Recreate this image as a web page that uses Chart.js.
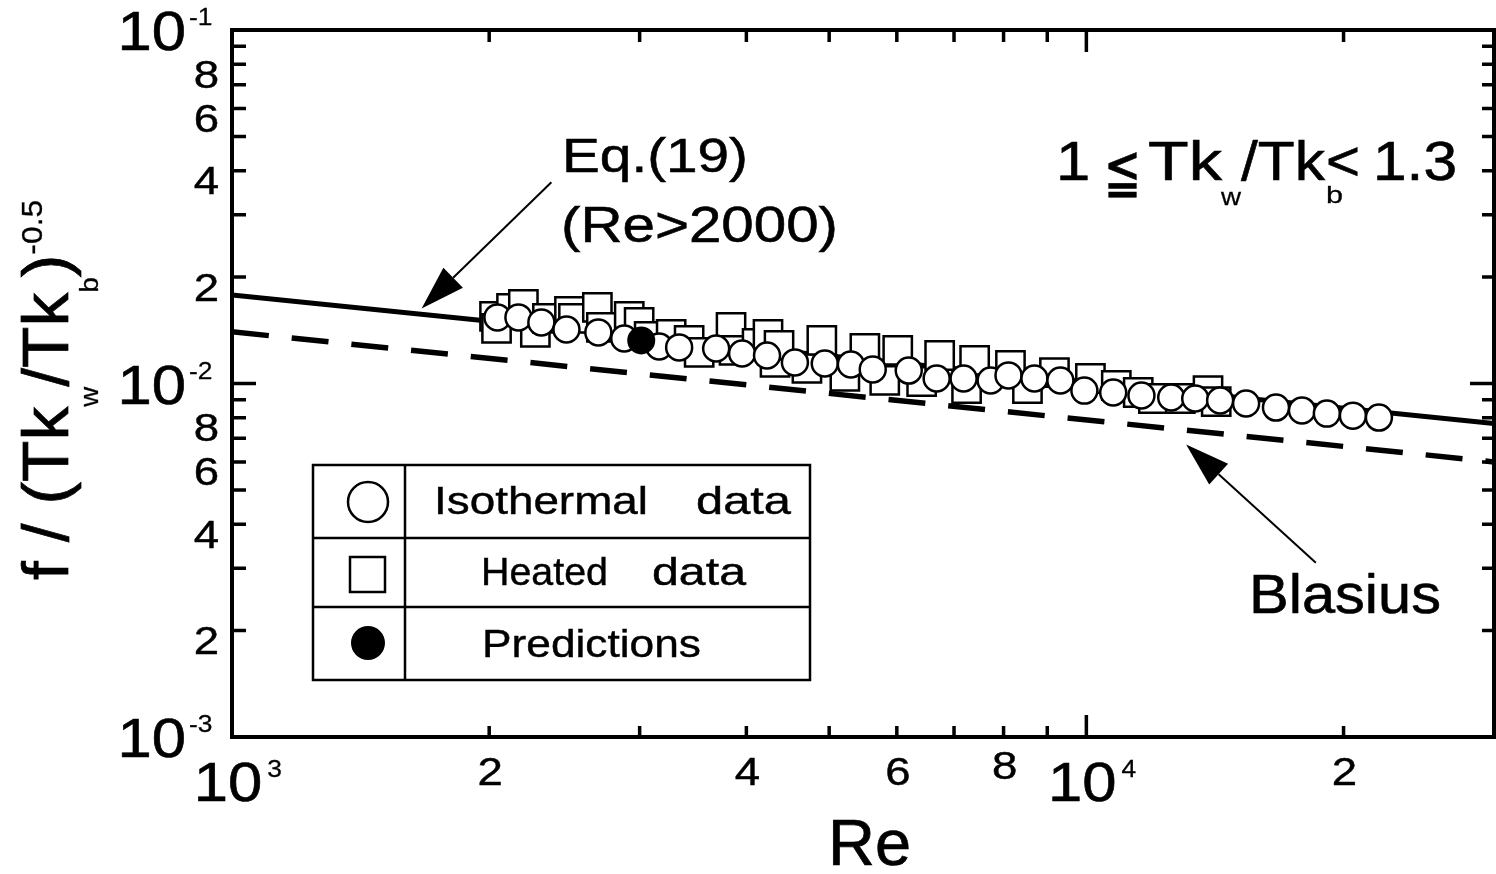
<!DOCTYPE html>
<html>
<head>
<meta charset="utf-8">
<script src="https://cdn.jsdelivr.net/npm/chart.js@4.4.0/dist/chart.umd.min.js"></script>
<style>
html, body { margin: 0; padding: 0; background: #fff; }
canvas { display: block; }
</style>
</head>
<body>
<canvas id="chartRe" width="1496" height="874"></canvas>
<script>
// === DONNEES ===
const isoRe = [2045, 2164, 2302, 2463, 2684, 2878, 3162, 3337, 3687, 3954,
    4229, 4559, 4941, 5301, 5623, 6196, 6680, 7183, 7726, 8107,
    8694, 9324, 9947, 10750, 11600, 12570, 13410, 14340, 15380, 16670,
    17880, 19120, 20510, 22000];
const isoF = [0.01538, 0.01538, 0.01489, 0.01422, 0.01395, 0.01341, 0.01273, 0.01265, 0.01256, 0.01216,
    0.01200, 0.01147, 0.01139, 0.01132, 0.01096, 0.01088, 0.01033, 0.01033, 0.01020, 0.01054,
    0.01033, 0.01020, 0.00955, 0.00943, 0.00925, 0.00913, 0.00907, 0.00895, 0.00878, 0.00855,
    0.00839, 0.00822, 0.00811, 0.00801];

const heatRe = [2029, 2040, 2124, 2193, 2265, 2340, 2483, 2510, 2677, 2706,
    2917, 2996, 3078, 3266, 3428, 3522, 3838, 3869, 4117, 4240,
    4321, 4368, 4709, 4902, 5216, 5505, 5808, 6015, 6415, 6734,
    7241, 7400, 8150, 8532, 9176, 10110, 10840, 11500, 11980, 12880,
    13880, 14190];
const heatF = [0.01548, 0.01432, 0.01631, 0.01674, 0.01395, 0.01528, 0.01600, 0.01528, 0.01642, 0.01441,
    0.01548, 0.01489, 0.01359, 0.01377, 0.01324, 0.01224, 0.01441, 0.01240, 0.01298, 0.01377,
    0.01147, 0.01281, 0.01103, 0.01324, 0.01047, 0.01256, 0.01020, 0.01240, 0.01013, 0.01200,
    0.00968, 0.01162, 0.01125, 0.00968, 0.01074, 0.01033, 0.00987, 0.00943, 0.00907, 0.00907,
    0.00955, 0.00889];

const predRe = [3013];
const predF = [0.01324];

// Eq.(19) et Blasius (droites en log-log)
const eqRe = [1000, 30000];
const eqF = [0.0178, 0.0077];
const blasRe = [1000, 30000];
const blasF = [0.0140, 0.0060];

// === GRADUATIONS ===
const xMajor = [1000, 10000];
const xMinor = [2000, 3000, 4000, 5000, 6000, 7000, 8000, 9000, 20000];
const yMajor = [0.001, 0.01, 0.1];
const yMinor = [0.002, 0.003, 0.004, 0.005, 0.006, 0.007, 0.008, 0.009,
    0.02, 0.03, 0.04, 0.05, 0.06, 0.07, 0.08, 0.09];

const xDigitVals = [2000, 4000, 6000, 8000, 20000];
const xDigitText = ["2", "4", "6", "8", "2"];
const xDecExp = ["3", "4"];
const yDigitVals = [0.002, 0.004, 0.006, 0.008, 0.02, 0.04, 0.06, 0.08];
const yDigitText = ["2", "4", "6", "8", "2", "4", "6", "8"];
const yDecExp = ["-3", "-2", "-1"];

// points des fleches (coordonnees donnees)
const arrowEq = { from: [2365, 0.0371], to: [1667, 0.0163] };
const arrowBl = { from: [18560, 0.00311], to: [13085, 0.00672] };

const FONT = '"Liberation Sans", Arial, Helvetica, sans-serif';

function pts(xs, ys) {
    return xs.map((v, i) => ({ x: v, y: ys[i] }));
}

// texte avec etirement horizontal (un peu epaissi comme le scan)
function drawText(ctx, str, x, y, size, align, sx) {
    ctx.save();
    ctx.font = size + "px " + FONT;
    let w = ctx.measureText(str).width * sx;
    let x0 = x;
    if (align === "center") x0 = x - w / 2;
    else if (align === "right") x0 = x - w;
    ctx.translate(x0, y);
    ctx.scale(sx, 1);
    ctx.textAlign = "left";
    ctx.textBaseline = "alphabetic";
    ctx.fillStyle = "#000";
    ctx.strokeStyle = "#000";
    ctx.lineWidth = size * 0.011;
    ctx.fillText(str, 0, 0);
    ctx.strokeText(str, 0, 0);
    ctx.restore();
    return w;
}

// texte cale entre deux x
function fitText(ctx, str, x0, x1, y, size) {
    ctx.save();
    ctx.font = size + "px " + FONT;
    let w = ctx.measureText(str).width;
    ctx.restore();
    drawText(ctx, str, x0, y, size, "left", (x1 - x0) / w);
}

function arrow(ctx, xs, ys, a) {
    let x0 = xs.getPixelForValue(a.from[0]), y0 = ys.getPixelForValue(a.from[1]);
    let x1 = xs.getPixelForValue(a.to[0]), y1 = ys.getPixelForValue(a.to[1]);
    let ang = Math.atan2(y1 - y0, x1 - x0);
    let L = 44, H = 14;
    let bx = x1 - L * Math.cos(ang), by = y1 - L * Math.sin(ang);
    ctx.lineWidth = 2;
    ctx.beginPath();
    ctx.moveTo(x0, y0);
    ctx.lineTo(bx, by);
    ctx.stroke();
    ctx.beginPath();
    ctx.moveTo(x1, y1);
    ctx.lineTo(bx + H * Math.sin(ang), by - H * Math.cos(ang));
    ctx.lineTo(bx - H * Math.sin(ang), by + H * Math.cos(ang));
    ctx.closePath();
    ctx.fill();
}

const decor = {
    id: "decor",
    afterDraw(chart) {
        const ctx = chart.ctx;
        const a = chart.chartArea;
        const xs = chart.scales.x, ys = chart.scales.y;
        ctx.save();
        ctx.strokeStyle = "#000";
        ctx.fillStyle = "#000";

        // cadre
        ctx.lineWidth = 4;
        ctx.strokeRect(a.left, a.top, a.right - a.left, a.bottom - a.top);

        // graduations vers l'interieur
        ctx.lineWidth = 3.5;
        ctx.beginPath();
        xMinor.forEach(v => {
            let p = xs.getPixelForValue(v);
            ctx.moveTo(p, a.bottom); ctx.lineTo(p, a.bottom - 11);
            ctx.moveTo(p, a.top); ctx.lineTo(p, a.top + 12);
        });
        xMajor.forEach(v => {
            let p = xs.getPixelForValue(v);
            ctx.moveTo(p, a.bottom); ctx.lineTo(p, a.bottom - 22);
            ctx.moveTo(p, a.top); ctx.lineTo(p, a.top + 22);
        });
        yMinor.forEach(v => {
            let p = ys.getPixelForValue(v);
            ctx.moveTo(a.left, p); ctx.lineTo(a.left + 14, p);
            ctx.moveTo(a.right, p); ctx.lineTo(a.right - 12, p);
        });
        yMajor.forEach(v => {
            let p = ys.getPixelForValue(v);
            ctx.moveTo(a.left, p); ctx.lineTo(a.left + 24, p);
            ctx.moveTo(a.right, p); ctx.lineTo(a.right - 24, p);
        });
        ctx.stroke();

        // etiquettes axe y
        yDigitVals.forEach((v, i) => {
            let p = ys.getPixelForValue(v);
            drawText(ctx, yDigitText[i], 219, p + 10 + 13.5, 38, "right", 1.2);
        });
        yMajor.forEach((v, i) => {
            let p = ys.getPixelForValue(v);
            drawText(ctx, "10", 186, p + 20, 55, "right", 1.12);
            drawText(ctx, yDecExp[i], 189, p - 5, 24, "left", 1.1);
        });

        // etiquettes axe x
        xDigitVals.forEach((v, i) => {
            let p = xs.getPixelForValue(v);
            drawText(ctx, xDigitText[i], p + 1, v === 8000 ? 779 : 785, 38, "center", 1.2);
        });
        xMajor.forEach((v, i) => {
            let p = xs.getPixelForValue(v);
            let w = drawText(ctx, "10", p - 4, 801, 55, "center", 1.12);
            drawText(ctx, xDecExp[i], p - 4 + w / 2 + 5, 777, 24, "left", 1.1);
        });

        // titre x
        fitText(ctx, "Re", 828, 911, 865, 65);

        // titre y (vertical)
        ctx.save();
        ctx.translate(68, 580);
        ctx.rotate(-Math.PI / 2);
        let u = 0;
        [["f / (Tk", 64, 0], ["w", 26, 30], ["/Tk", 64, 0], ["b", 26, 30], [")", 64, 0], ["-0.5", 30, -26]]
            .forEach(pc => { u += drawText(ctx, pc[0], u, pc[2], pc[1], "left", 1.06); });
        ctx.restore();

        // annotations
        fitText(ctx, "Eq.(19)", 562, 748, 172, 48);
        fitText(ctx, "(Re>2000)", 561, 838, 242, 50);
        fitText(ctx, "Blasius", 1249, 1441, 613, 56);

        drawText(ctx, "1", 1056, 180, 56, "left", 1.1);
        fitText(ctx, "\u2266", 1104, 1141, 192, 62);
        fitText(ctx, "Tk", 1148, 1222, 180, 56);
        fitText(ctx, "w", 1221, 1241, 205, 24);
        fitText(ctx, "/Tk", 1241, 1325, 180, 56);
        fitText(ctx, "b", 1326, 1343, 203, 24);
        fitText(ctx, "<", 1326, 1360, 180, 56);
        fitText(ctx, "1.3", 1373, 1457, 180, 56);

        arrow(ctx, xs, ys, arrowEq);
        arrow(ctx, xs, ys, arrowBl);

        // tableau de legende
        ctx.lineWidth = 2.5;
        ctx.strokeRect(313, 465, 497, 215);
        ctx.beginPath();
        ctx.moveTo(405, 465); ctx.lineTo(405, 680);
        ctx.moveTo(313, 538); ctx.lineTo(810, 538);
        ctx.moveTo(313, 607); ctx.lineTo(810, 607);
        ctx.stroke();

        ctx.fillStyle = "#fff";
        ctx.beginPath();
        ctx.arc(368, 502, 20, 0, Math.PI * 2);
        ctx.fill();
        ctx.stroke();
        ctx.fillRect(350, 557, 35, 35);
        ctx.strokeRect(350, 557, 35, 35);
        ctx.fillStyle = "#000";
        ctx.beginPath();
        ctx.arc(368, 643, 17, 0, Math.PI * 2);
        ctx.fill();

        fitText(ctx, "Isothermal", 434, 648, 514, 38);
        fitText(ctx, "data", 696, 791, 514, 38);
        fitText(ctx, "Heated", 481, 608, 585, 38);
        fitText(ctx, "data", 652, 746, 585, 38);
        fitText(ctx, "Predictions", 482, 701, 657, 38);

        ctx.restore();
    }
};

let chart = new Chart(document.getElementById("chartRe"), {
    type: "scatter",
    data: {
        datasets: [
            {
                label: "Predictions",
                data: pts(predRe, predF),
                order: 0,
                pointStyle: "circle",
                pointRadius: 13,
                pointBorderWidth: 2,
                pointBackgroundColor: "#000",
                pointBorderColor: "#000"
            },
            {
                label: "Isothermal data",
                data: pts(isoRe, isoF),
                order: 1,
                pointStyle: "circle",
                pointRadius: 13,
                pointBorderWidth: 2.5,
                pointBackgroundColor: "#fff",
                pointBorderColor: "#000"
            },
            {
                label: "Heated data",
                data: pts(heatRe, heatF),
                order: 2,
                pointStyle: "rect",
                pointRadius: 20,
                pointBorderWidth: 2.5,
                pointBackgroundColor: "#fff",
                pointBorderColor: "#000"
            },
            {
                label: "Eq.(19)",
                data: pts(eqRe, eqF),
                order: 3,
                showLine: true,
                pointRadius: 0,
                borderColor: "#000",
                borderWidth: 5
            },
            {
                label: "Blasius",
                data: pts(blasRe, blasF),
                order: 4,
                showLine: true,
                pointRadius: 0,
                borderColor: "#000",
                borderWidth: 5.5,
                borderDash: [37, 23],
                borderCapStyle: "butt"
            }
        ]
    },
    options: {
        responsive: false,
        animation: false,
        layout: { autoPadding: false, padding: { left: 232, right: 2, top: 30, bottom: 137 } },
        plugins: {
            legend: { display: false },
            tooltip: { enabled: false }
        },
        scales: {
            x: {
                type: "logarithmic",
                min: 1000,
                max: 30000,
                ticks: { display: false },
                grid: { display: false },
                border: { display: false },
                afterFit: s => { s.height = 0; }
            },
            y: {
                type: "logarithmic",
                min: 0.001,
                max: 0.1,
                ticks: { display: false },
                grid: { display: false },
                border: { display: false },
                afterFit: s => { s.width = 0; }
            }
        }
    },
    plugins: [decor]
});
</script>
</body>
</html>
